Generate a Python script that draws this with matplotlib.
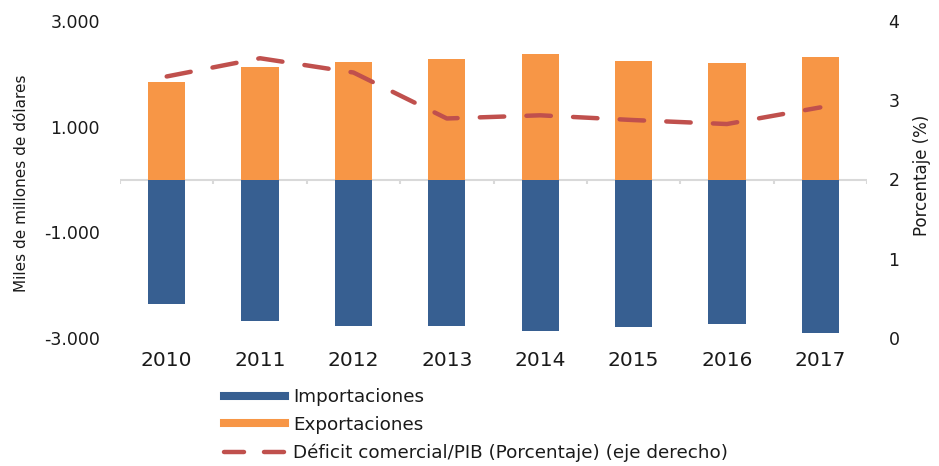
import matplotlib
matplotlib.use("Agg")
import matplotlib.pyplot as plt
import numpy as np
from matplotlib.lines import Line2D

years = ["2010", "2011", "2012", "2013", "2014", "2015", "2016", "2017"]
exportaciones = [1852, 2125, 2220, 2276, 2371, 2244, 2200, 2314]
importaciones = [-2358, -2686, -2769, -2769, -2875, -2788, -2737, -2901]
deficit_pib = [3.30, 3.53, 3.35, 2.77, 2.81, 2.75, 2.70, 2.91]

left_ticks = [-3000, -1000, 1000, 3000]
left_labels = ["-3.000", "-1.000", "1.000", "3.000"]
right_ticks = [0, 1, 2, 3, 4]

c_imp = "#375F91"
c_exp = "#F79646"
c_line = "#C0504D"
c_text = "#1a1a1a"

plt.rcParams["font.family"] = ["DejaVu Sans"]

W, H = 939, 466
fig = plt.figure(figsize=(W / 100, H / 100), dpi=100)
ax = fig.add_axes([120 / W, 1 - 338 / H, 747 / W, 317 / H])
x = np.arange(len(years))

ax.bar(x, importaciones, width=0.40, color=c_imp, zorder=2)
ax.bar(x, exportaciones, width=0.40, color=c_exp, zorder=2)
ax.axhline(0, color="#d9d9d9", lw=1.5, zorder=1)
bounds = np.arange(len(years) + 1) - 0.5
ax.vlines(bounds, -90, 0, color="#d9d9d9", lw=1.5, zorder=1)

ax.set_xlim(-0.5, len(years) - 0.5)
ax.set_ylim(-3000, 3000)
ax.set_yticks(left_ticks)
ax.set_yticklabels(left_labels)
ax.set_xticks(x)
ax.set_xticklabels(years)
ax.tick_params(axis="x", length=0, labelsize=14.5, pad=9, colors=c_text)
ax.tick_params(axis="y", length=0, labelsize=12.5, pad=14.4, colors=c_text)
for s in ax.spines.values():
    s.set_visible(False)

ax2 = ax.twinx()
ax2.plot(x, deficit_pib, color=c_line, lw=3.2, dashes=(5.5, 5), dash_capstyle="round",
         solid_capstyle="round", zorder=3)
ax2.set_ylim(0, 4)
ax2.set_yticks(right_ticks)
ax2.tick_params(axis="y", length=0, labelsize=12.5, pad=15.5, colors=c_text)
for s in ax2.spines.values():
    s.set_visible(False)

fig.text(22 / W, 1 - 183 / H, "Miles de millones de dólares", rotation=90,
         ha="center", va="center", fontsize=11, color=c_text)
fig.text(922 / W, 1 - 175 / H, "Porcentaje (%)", rotation=90,
         ha="center", va="center", fontsize=12, color=c_text)

handles = [
    Line2D([0], [0], color=c_imp, lw=5.8),
    Line2D([0], [0], color=c_exp, lw=5.8),
    Line2D([0], [0], color=c_line, lw=3.2, dashes=(4.5, 4.5), dash_capstyle="round"),
]
labels = ["Importaciones", "Exportaciones", "Déficit comercial/PIB (Porcentaje) (eje derecho)"]
leg = fig.legend(handles, labels, loc="upper left", bbox_to_anchor=(224 / W, 1 - 388 / H),
                 frameon=False, fontsize=13.2, handlelength=3.35, handletextpad=0.43,
                 labelspacing=0.53, borderpad=0, borderaxespad=0)
for t in leg.get_texts():
    t.set_color(c_text)

fig.savefig("out.png", dpi=100)
